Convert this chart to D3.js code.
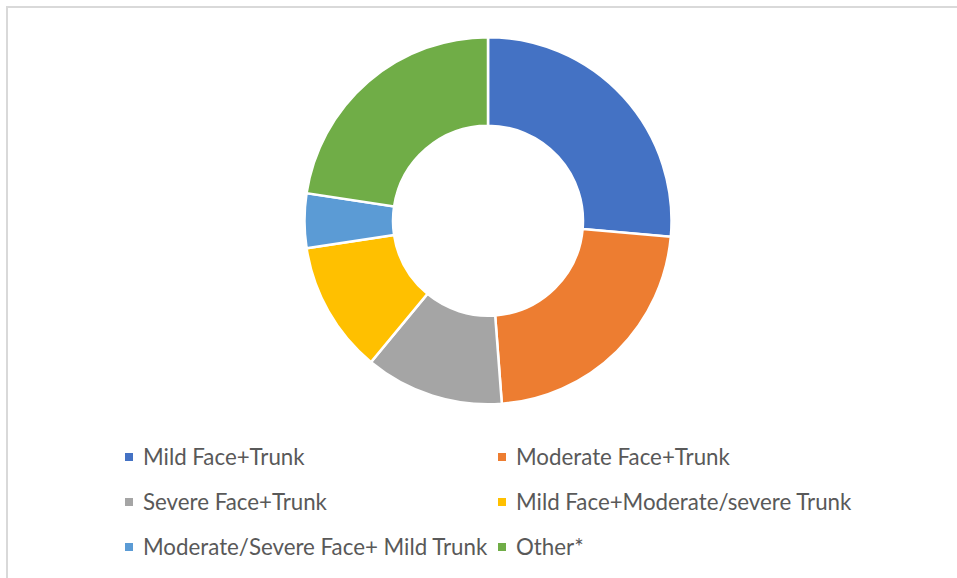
<!DOCTYPE html>
<html>
<head>
<meta charset="utf-8">
<script src="https://cdn.jsdelivr.net/npm/d3@7"></script>
<style>
  html, body { margin: 0; padding: 0; background: #fff; }
  svg { display: block; }
</style>
</head>
<body>
<svg id="chart" width="957" height="578"></svg>
<script>
const categories = [
  "Mild Face+Trunk",
  "Moderate Face+Trunk",
  "Severe Face+Trunk",
  "Mild Face+Moderate/severe Trunk",
  "Moderate/Severe Face+ Mild Trunk",
  "Other*"
];
const values = [26.4, 22.4, 12.2, 11.6, 4.8, 22.6];
const colors = ["#4472C4", "#ED7D31", "#A5A5A5", "#FFC000", "#5B9BD5", "#70AD47"];

const svg = d3.select("#chart");

// chart frame
svg.append("rect")
  .attr("x", 7).attr("y", 7)
  .attr("width", 960).attr("height", 580)
  .attr("fill", "#fff")
  .attr("stroke", "#d9d9d9")
  .attr("stroke-width", 2);

const cx = 488, cy = 220.7, outerR = 183.5, innerR = 95;

const data = categories.map((c, i) => ({ cat: c, value: values[i], color: colors[i] }));
const pie = d3.pie().value(d => d.value).sort(null);
const arc = d3.arc().innerRadius(innerR).outerRadius(outerR);

svg.append("g")
  .attr("transform", `translate(${cx},${cy})`)
  .selectAll("path")
  .data(pie(data))
  .join("path")
  .attr("d", arc)
  .attr("fill", d => d.data.color)
  .attr("stroke", "#fff")
  .attr("stroke-width", 2.5)
  .attr("stroke-linejoin", "miter");

// legend
const colX = [125, 498];
const rowY = [457, 502, 547];
const legend = svg.append("g");
data.forEach((d, i) => {
  const x = colX[i % 2], y = rowY[Math.floor(i / 2)];
  const g = legend.append("g").attr("transform", `translate(${x},${y})`);
  g.append("rect").attr("x", 0).attr("y", -4).attr("width", 8).attr("height", 8).attr("fill", d.color);
  g.append("text")
    .attr("x", 18).attr("y", 0)
    .attr("dy", "0.36em")
    .attr("font-family", "Lato, 'Open Sans', sans-serif")
    .attr("font-size", 22.3)
    .attr("fill", "#595959")
    .text(d.cat);
});
</script>
</body>
</html>
